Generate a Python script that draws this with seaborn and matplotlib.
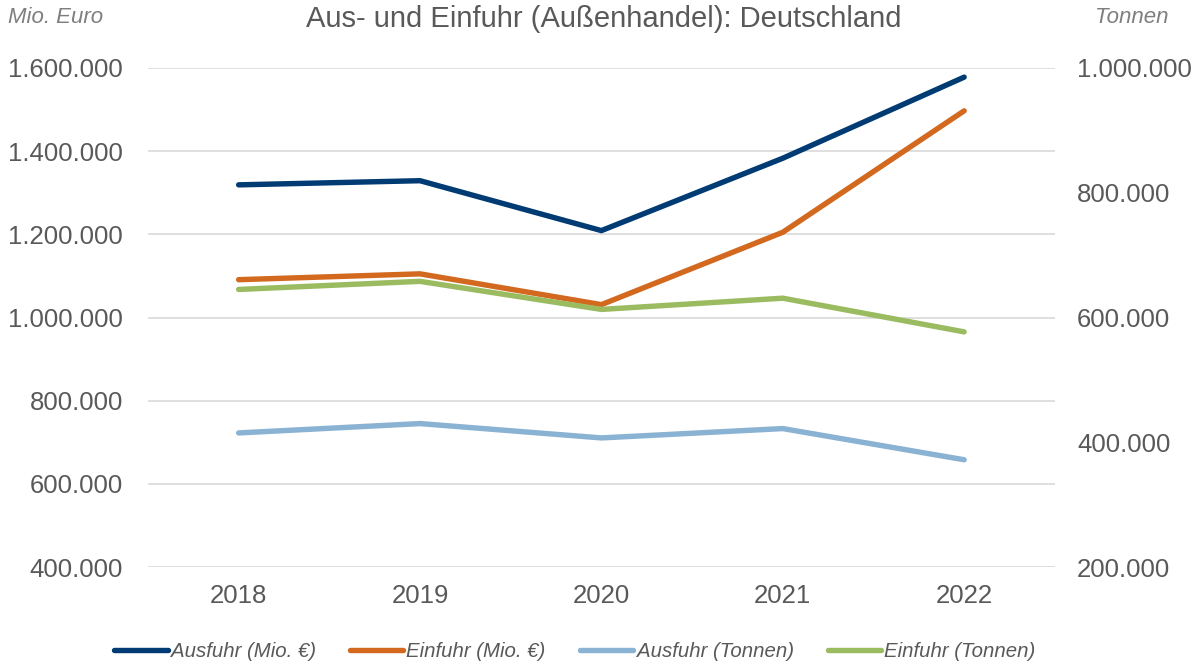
import pandas as pd
import matplotlib
matplotlib.use("Agg")
import matplotlib.pyplot as plt
import seaborn as sns
from matplotlib.ticker import FuncFormatter, FixedLocator
from matplotlib.lines import Line2D

# Daten
jahre = [2018, 2019, 2020, 2021, 2022]
ausfuhr_eur = [1319000, 1329000, 1209000, 1383000, 1578000]
einfuhr_eur = [1091000, 1105000, 1031000, 1205000, 1497000]
ausfuhr_t = [415000, 430000, 407000, 422000, 372000]
einfuhr_t = [645000, 658000, 613000, 631000, 577000]

farben = {
    "Ausfuhr (Mio. €)": "#003B73",
    "Einfuhr (Mio. €)": "#D2691E",
    "Ausfuhr (Tonnen)": "#8AB2D3",
    "Einfuhr (Tonnen)": "#9BBB61",
}
grau = "#595959"

sns.set_style("white")
plt.rcParams["font.family"] = ["Liberation Sans", "DejaVu Sans"]

df_eur = pd.DataFrame({"jahr": jahre, "Ausfuhr (Mio. €)": ausfuhr_eur, "Einfuhr (Mio. €)": einfuhr_eur})
df_t = pd.DataFrame({"jahr": jahre, "Ausfuhr (Tonnen)": ausfuhr_t, "Einfuhr (Tonnen)": einfuhr_t})

fig = plt.figure(figsize=(11.98, 6.64), dpi=100)
ax = fig.add_axes([0.1235, 0.146, 0.757, 0.7516])
ax2 = ax.twinx()

lw = 3.9
for col in ["Ausfuhr (Mio. €)", "Einfuhr (Mio. €)"]:
    sns.lineplot(data=df_eur, x="jahr", y=col, ax=ax, color=farben[col], linewidth=lw,
                 solid_capstyle="round", zorder=3)
for col in ["Ausfuhr (Tonnen)", "Einfuhr (Tonnen)"]:
    sns.lineplot(data=df_t, x="jahr", y=col, ax=ax2, color=farben[col], linewidth=lw,
                 solid_capstyle="round", zorder=3)

fmt = FuncFormatter(lambda v, p: f"{v:,.0f}".replace(",", "."))

ax.set_xlim(2017.5, 2022.5)
ax.set_ylim(400000, 1600000)
ax.yaxis.set_major_locator(FixedLocator(range(400000, 1600001, 200000)))
ax.yaxis.set_major_formatter(fmt)
ax2.set_ylim(200000, 1000000)
ax2.yaxis.set_major_locator(FixedLocator(range(200000, 1000001, 200000)))
ax2.yaxis.set_major_formatter(fmt)
ax.set_xticks(jahre)

ax.grid(axis="y", color="#D9D9D9", linewidth=1.2, zorder=0)
ax.set_axisbelow(True)
for a in (ax, ax2):
    for s in a.spines.values():
        s.set_visible(False)
    a.set_xlabel("")
    a.set_ylabel("")
    a.tick_params(length=0, labelsize=18.5, labelcolor=grau)
ax.tick_params(axis="y", pad=18)
ax.tick_params(axis="x", pad=12)
ax2.tick_params(axis="y", pad=16)

fig.text(0.504, 0.971, "Aus- und Einfuhr (Außenhandel): Deutschland", ha="center", va="center",
         fontsize=21, color=grau)
fig.text(0.007, 0.973, "Mio. Euro", ha="left", va="center", fontsize=16, style="italic", color="#7F7F7F")
fig.text(0.975, 0.973, "Tonnen", ha="right", va="center", fontsize=16, style="italic", color="#7F7F7F")

handles = [Line2D([0], [0], color=c, linewidth=lw, solid_capstyle="round") for c in farben.values()]
leg = fig.legend(handles, list(farben.keys()), loc="center", bbox_to_anchor=(0.48, 0.019), ncol=4,
                 frameon=False, handlelength=2.6, handletextpad=0.15, columnspacing=1.7,
                 prop={"size": 14.7, "style": "italic"})
for t in leg.get_texts():
    t.set_color(grau)

fig.savefig("out.png", dpi=100)
